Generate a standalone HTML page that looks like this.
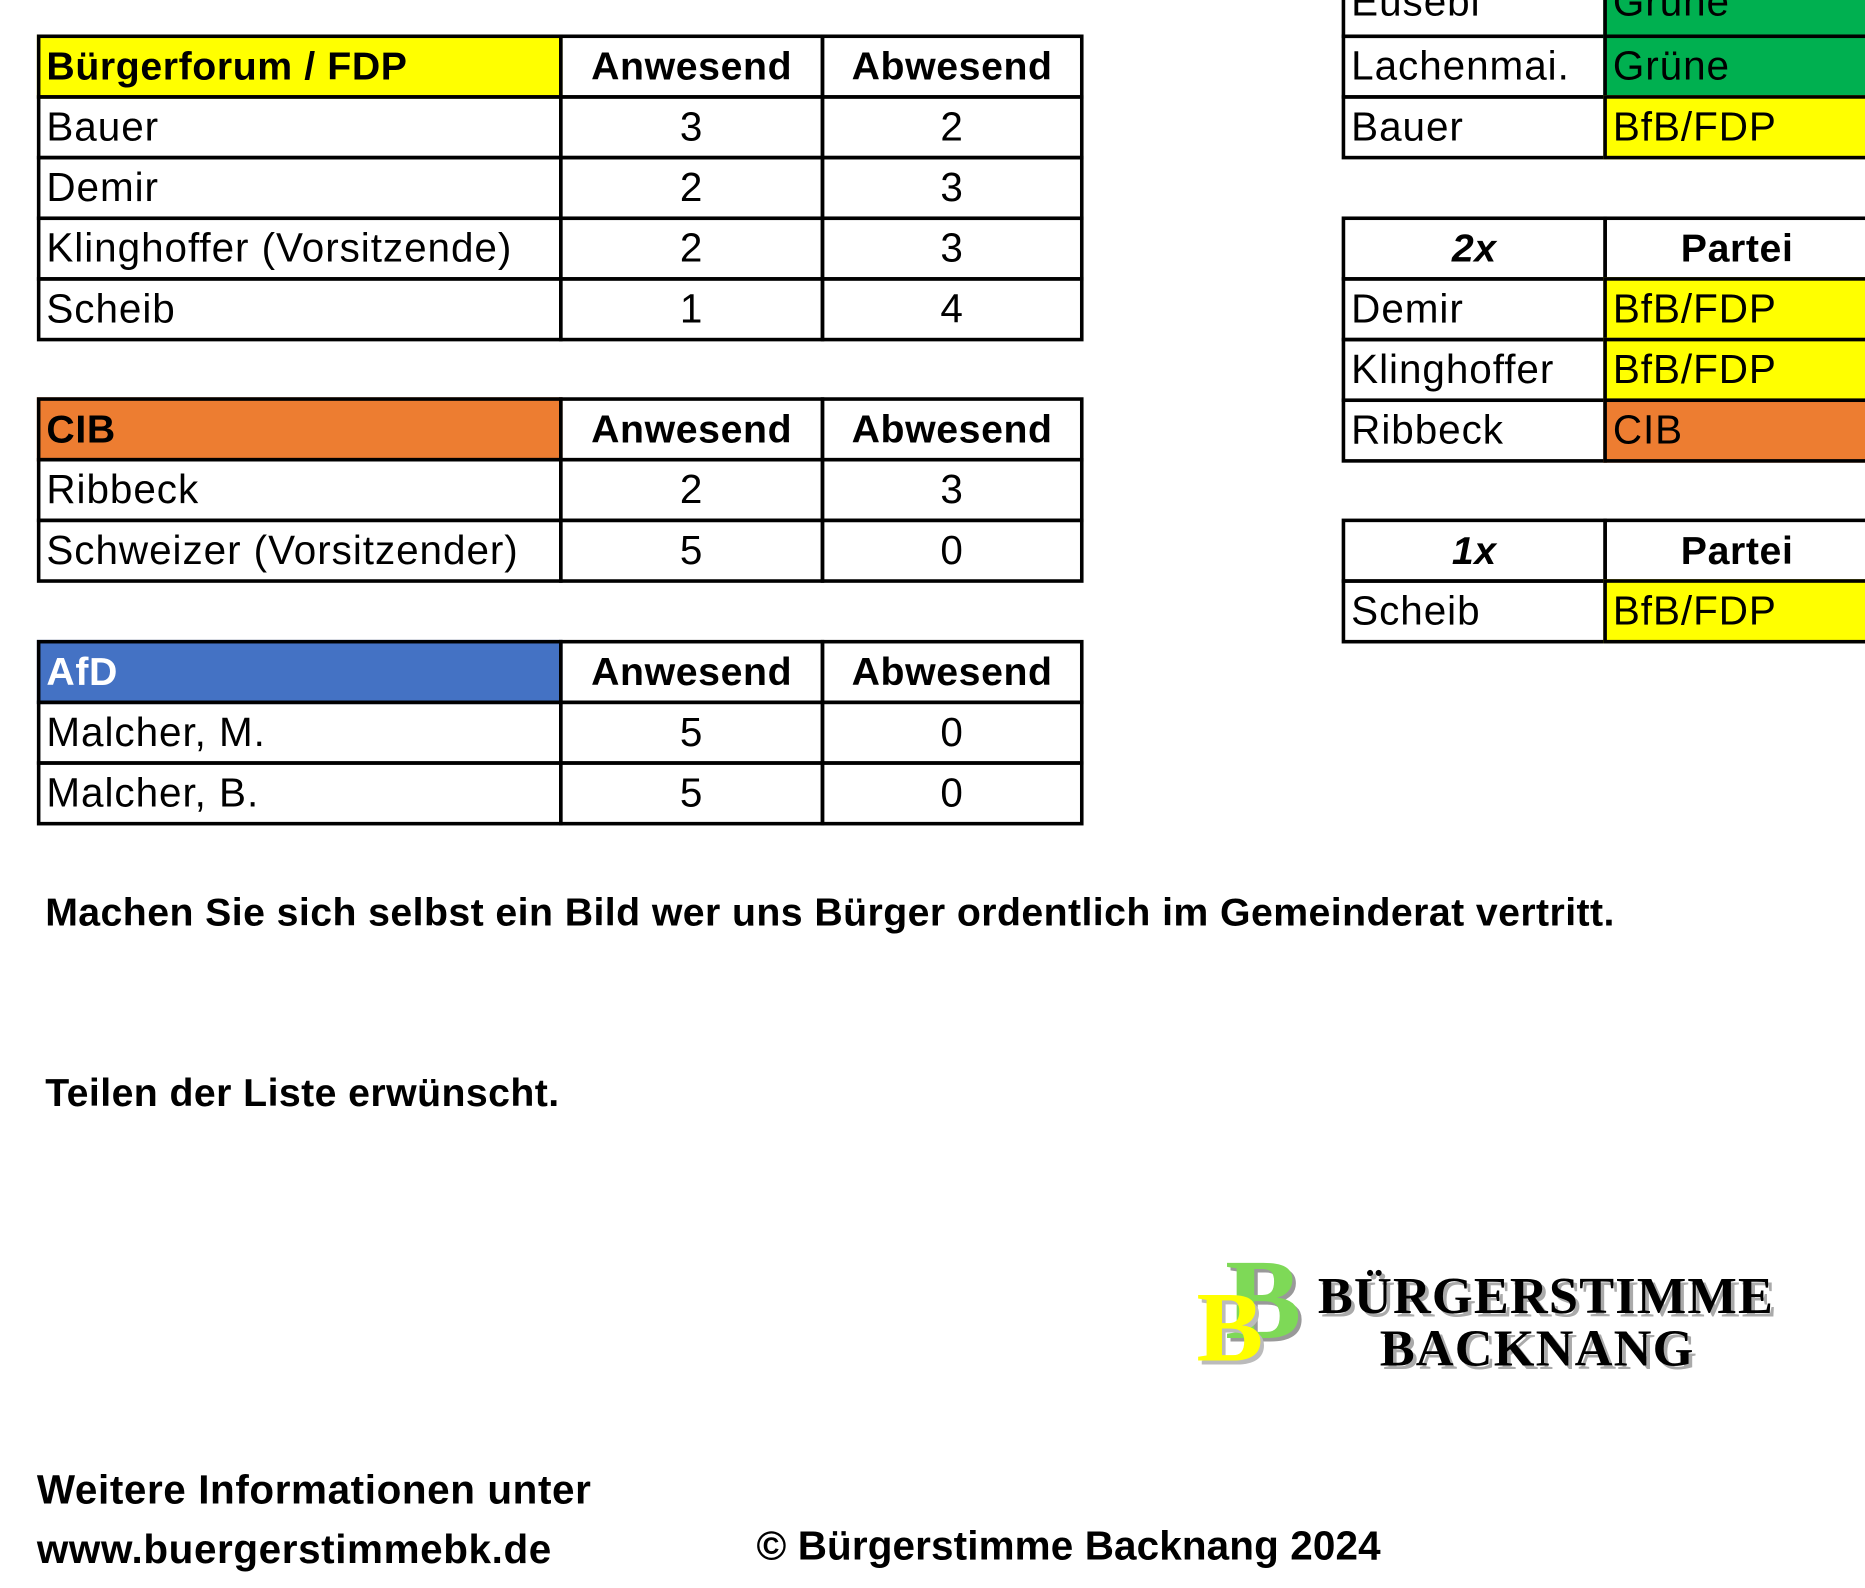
<!DOCTYPE html>
<html><head><meta charset="utf-8"><style>
html,body{margin:0;padding:0;background:#fff;}
body{width:1865px;height:1588px;overflow:hidden;position:relative;}
#w{position:absolute;left:0;top:0;width:1568px;height:1335px;transform:scale(1.18941);transform-origin:0 0;font-family:"Liberation Sans",sans-serif;color:#000;}
.c{position:absolute;border:3px solid #000;box-sizing:border-box;height:54px;line-height:48px;padding-left:5px;font-size:34px;white-space:nowrap;overflow:hidden;letter-spacing:0.8px;}
.n{text-align:center;padding-left:0;}
.b{font-weight:bold;font-size:33px;letter-spacing:0.5px;}
.i{font-style:italic;}
.y{background:#ffff00;}.o{background:#ed7d31;}.bl{background:#4472c4;color:#fff;}.g{background:#00b050;}
.t{position:absolute;font-weight:bold;font-size:33px;white-space:nowrap;letter-spacing:0.35px;}
.lg{position:absolute;font-family:"Liberation Serif",serif;font-weight:bold;white-space:nowrap;text-shadow:3px 3px 0 #aaa;letter-spacing:1px;}
</style></head><body><div id="w">

<div class="c b y" style="left:31px;top:29px;width:442px">Bürgerforum / FDP</div>
<div class="c b n" style="left:470px;top:29px;width:223px">Anwesend</div>
<div class="c b n" style="left:690px;top:29px;width:221px">Abwesend</div>
<div class="c" style="left:31px;top:80px;width:442px">Bauer</div>
<div class="c n" style="left:470px;top:80px;width:223px">3</div>
<div class="c n" style="left:690px;top:80px;width:221px">2</div>
<div class="c" style="left:31px;top:131px;width:442px">Demir</div>
<div class="c n" style="left:470px;top:131px;width:223px">2</div>
<div class="c n" style="left:690px;top:131px;width:221px">3</div>
<div class="c" style="left:31px;top:182px;width:442px">Klinghoffer (Vorsitzende)</div>
<div class="c n" style="left:470px;top:182px;width:223px">2</div>
<div class="c n" style="left:690px;top:182px;width:221px">3</div>
<div class="c" style="left:31px;top:233px;width:442px">Scheib</div>
<div class="c n" style="left:470px;top:233px;width:223px">1</div>
<div class="c n" style="left:690px;top:233px;width:221px">4</div>

<div class="c b o" style="left:31px;top:334px;width:442px">CIB</div>
<div class="c b n" style="left:470px;top:334px;width:223px">Anwesend</div>
<div class="c b n" style="left:690px;top:334px;width:221px">Abwesend</div>
<div class="c" style="left:31px;top:385px;width:442px">Ribbeck</div>
<div class="c n" style="left:470px;top:385px;width:223px">2</div>
<div class="c n" style="left:690px;top:385px;width:221px">3</div>
<div class="c" style="left:31px;top:436px;width:442px">Schweizer (Vorsitzender)</div>
<div class="c n" style="left:470px;top:436px;width:223px">5</div>
<div class="c n" style="left:690px;top:436px;width:221px">0</div>

<div class="c b bl" style="left:31px;top:538px;width:442px">AfD</div>
<div class="c b n" style="left:470px;top:538px;width:223px">Anwesend</div>
<div class="c b n" style="left:690px;top:538px;width:221px">Abwesend</div>
<div class="c" style="left:31px;top:589px;width:442px">Malcher, M.</div>
<div class="c n" style="left:470px;top:589px;width:223px">5</div>
<div class="c n" style="left:690px;top:589px;width:221px">0</div>
<div class="c" style="left:31px;top:640px;width:442px">Malcher, B.</div>
<div class="c n" style="left:470px;top:640px;width:223px">5</div>
<div class="c n" style="left:690px;top:640px;width:221px">0</div>

<div class="c" style="left:1128px;top:-25px;width:223px;height:57px">Eusebi</div>
<div class="c g" style="left:1348px;top:-25px;width:225px;height:57px">Grüne</div>
<div class="c" style="left:1128px;top:29px;width:223px">Lachenmai.</div>
<div class="c g" style="left:1348px;top:29px;width:225px">Grüne</div>
<div class="c" style="left:1128px;top:80px;width:223px">Bauer</div>
<div class="c y" style="left:1348px;top:80px;width:225px">BfB/FDP</div>

<div class="c b i n" style="left:1128px;top:182px;width:223px">2x</div>
<div class="c b n" style="left:1348px;top:182px;width:225px">Partei</div>
<div class="c" style="left:1128px;top:233px;width:223px">Demir</div>
<div class="c y" style="left:1348px;top:233px;width:225px">BfB/FDP</div>
<div class="c" style="left:1128px;top:284px;width:223px">Klinghoffer</div>
<div class="c y" style="left:1348px;top:284px;width:225px">BfB/FDP</div>
<div class="c" style="left:1128px;top:335px;width:223px">Ribbeck</div>
<div class="c o" style="left:1348px;top:335px;width:225px">CIB</div>

<div class="c b i n" style="left:1128px;top:436px;width:223px">1x</div>
<div class="c b n" style="left:1348px;top:436px;width:225px">Partei</div>
<div class="c" style="left:1128px;top:487px;width:223px">Scheib</div>
<div class="c y" style="left:1348px;top:487px;width:225px">BfB/FDP</div>

<div class="t" style="left:38px;top:748px">Machen Sie sich selbst ein Bild wer uns Bürger ordentlich im Gemeinderat vertritt.</div>
<div class="t" style="left:38px;top:900px">Teilen der Liste erwünscht.</div>
<div class="t" style="left:31px;top:1234px;font-size:34px;letter-spacing:0.5px">Weitere Informationen unter</div>
<div class="t" style="left:31px;top:1284px;font-size:34px;letter-spacing:0.5px">www.buergerstimmebk.de</div>
<div class="t" style="left:636px;top:1281px;font-size:34px;letter-spacing:0.1px">© Bürgerstimme Backnang 2024</div>

<div class="lg" style="left:1030px;top:1045px;font-size:96px;color:#7ed957;text-shadow:3px 3px 0 #999;line-height:1">B</div>
<div class="lg" style="left:1006px;top:1075px;font-size:84px;color:#ffff00;text-shadow:3px 3px 0 #bbb;line-height:1">B</div>
<div class="lg" style="left:1108px;top:1068px;font-size:44px;line-height:1">BÜRGERSTIMME</div>
<div class="lg" style="left:1160px;top:1112px;font-size:44px;line-height:1">BACKNANG</div>

</div></body></html>
